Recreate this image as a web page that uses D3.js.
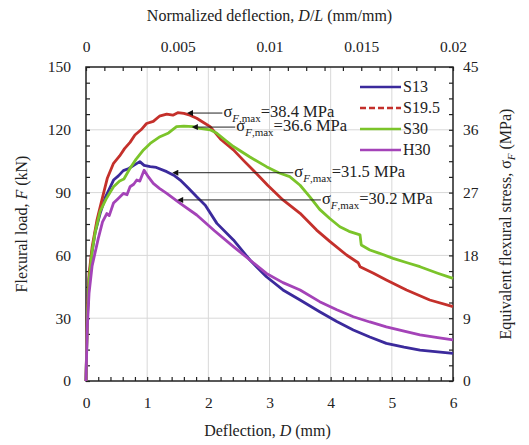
<!DOCTYPE html>
<html>
  <head>
    <meta charset="utf-8">
    <title>Flexural load vs deflection</title>
    <style>
      body { margin: 0; background: #fff; }
      svg text { font-family: "Liberation Serif", "Times New Roman", serif; fill: #222; }
      .grid line { stroke: #d8d8d8; stroke-width: 1; }
    </style>
  </head>
  <body>
    <div id="chart"></div>
    <script src="https://cdn.jsdelivr.net/npm/d3@7"></script>
    <script>
      // ---- data (D in mm, F in kN) ----
      var seriesNames = ['S13', 'S19.5', 'S30', 'H30'];
      var seriesColors = ['#3b2a9c', '#c4302b', '#7bc42a', '#a443b8'];

      var s13 = [[0,0],[0.02,29],[0.05,49],[0.1,62],[0.15,71],[0.23,80],[0.32,88],[0.45,96],[0.53,98],
        [0.61,100.5],[0.7,101.5],[0.78,103],[0.88,104.8],[0.95,103],[1.05,102.4],[1.15,102],[1.32,100],
        [1.45,98],[1.54,96],[1.68,92],[1.81,88],[1.95,84],[2.14,75.3],[2.41,67.4],[2.68,57.8],
        [2.95,49.8],[3.22,43.5],[3.5,38.7],[3.82,33.1],[4.1,28.4],[4.37,24.4],[4.64,21],[4.91,18],
        [5.2,16.2],[5.46,14.8],[5.75,13.9],[6.0,13.2]];
      var s195 = [[0,0],[0.02,31],[0.05,51],[0.1,64],[0.18,77],[0.26,86.5],[0.35,97],[0.45,104],
        [0.55,107.5],[0.63,111],[0.72,114],[0.8,117.5],[0.9,120],[0.99,123],[1.1,124],[1.2,126.5],
        [1.32,127.5],[1.42,127],[1.5,128.2],[1.6,127.8],[1.7,127],[1.81,125.5],[1.92,123.5],
        [2.03,121.5],[2.2,115.5],[2.41,110.4],[2.57,105.5],[2.73,100.8],[2.97,93.5],[3.22,86.5],
        [3.5,80.1],[3.77,72.1],[3.99,66.6],[4.26,60.2],[4.45,56.5],[4.48,54.6],[4.7,51.5],[4.91,48.3],
        [5.24,43.5],[5.62,38.7],[6.0,35.5]];
      var s30 = [[0,0],[0.02,28],[0.05,48],[0.1,62],[0.15,71],[0.23,81],[0.33,87],[0.45,92.8],
        [0.55,95.5],[0.62,96.5],[0.72,101.6],[0.82,106],[0.94,110.4],[1.05,113.5],[1.21,116.7],
        [1.35,118.5],[1.48,121.5],[1.6,121.8],[1.75,121.5],[1.86,120.7],[2.03,120],[2.14,118.3],
        [2.28,115],[2.41,112],[2.68,107],[2.95,102.4],[3.15,99.5],[3.33,97.6],[3.5,93.5],[3.66,88],
        [3.82,82],[3.99,77.5],[4.15,73.7],[4.3,71.5],[4.48,69.8],[4.5,65],[4.64,62.6],[4.8,61],
        [5.02,58.6],[5.25,56.5],[5.46,54.6],[5.75,51.5],[6.0,49]];
      var h30 = [[0,0],[0.02,25],[0.05,42],[0.1,55],[0.2,68],[0.27,76],[0.34,80],[0.38,79],
        [0.45,85],[0.52,87],[0.61,89.6],[0.67,89],[0.72,92.8],[0.78,94],[0.83,96],[0.88,95.5],
        [0.95,100.7],[1.02,97.5],[1.1,94.4],[1.2,92],[1.32,89.6],[1.54,84.9],[1.81,79.3],
        [2.1,71.8],[2.41,64.2],[2.68,57.8],[2.95,51.4],[3.22,47],[3.5,43.5],[3.82,37.9],
        [4.1,34],[4.37,30.7],[4.64,28.2],[4.91,25.9],[5.2,23.8],[5.46,22],[5.75,20.7],[6.0,19.6]];
      var seriesData = [s13, s195, s30, h30];

      // annotations: peak stress (MPa), arrow tip (D, F) and text start D
      var peakStress = ['38.4', '36.6', '31.5', '30.2'];
      var arrowTip = [[1.52, 128], [1.6, 121.3], [1.28, 99.5], [1.36, 86.5]];
      var labelStart = [2.23, 2.44, 3.39, 3.84];

      var xTicks = [0, 1, 2, 3, 4, 5, 6];
      var yTicks = [0, 30, 60, 90, 120, 150];
      var topTicks = [0, 0.005, 0.01, 0.015, 0.02];
      var rightTicks = [0, 9, 18, 27, 36, 45];

      (function(d3) {
        'use strict';

        var width = 529, height = 445;
        var mLeft = 86, mRight = 453, mTop = 67, mBottom = 381;

        var x = d3.scaleLinear().domain([0, 6]).range([mLeft, mRight]);
        var y = d3.scaleLinear().domain([0, 150]).range([mBottom, mTop]);
        var xTop = d3.scaleLinear().domain([0, 0.02]).range([mLeft, mRight]);
        var yRight = d3.scaleLinear().domain([0, 45]).range([mBottom, mTop]);

        var svg = d3.select('#chart').append('svg')
          .attr('width', width).attr('height', height);

        // gridlines
        var grid = svg.append('g').attr('class', 'grid');
        grid.selectAll('.gx').data(xTicks.slice(1, -1)).enter().append('line')
          .attr('x1', function(d) { return x(d); }).attr('x2', function(d) { return x(d); })
          .attr('y1', mTop).attr('y2', mBottom);
        grid.selectAll('.gy').data(yTicks.slice(1, -1)).enter().append('line')
          .attr('x1', mLeft).attr('x2', mRight)
          .attr('y1', function(d) { return y(d); }).attr('y2', function(d) { return y(d); });

        function near(a, list) {
          return list.some(function(v) { return Math.abs(a - v) < 1e-6; });
        }
        function styleAxis(g) {
          g.select('.domain').remove();
          g.selectAll('line').attr('stroke', '#222').attr('stroke-width', 1.2);
          g.selectAll('text').attr('font-size', 15.5).attr('fill', '#222')
            .attr('font-family', '"Liberation Serif", serif');
        }

        // axes, minor ticks point inward
        svg.append('g').attr('transform', 'translate(0,' + mBottom + ')')
          .call(d3.axisBottom(x).tickValues(d3.range(0, 6.01, 0.2)).tickSize(-4).tickPadding(16)
            .tickFormat(function(d) { return near(d, xTicks) ? Math.round(d) : ''; }))
          .call(styleAxis);
        svg.append('g').attr('transform', 'translate(0,' + mTop + ')')
          .call(d3.axisTop(xTop).tickValues(d3.range(0, 0.02001, 0.001)).tickSize(-4).tickPadding(15)
            .tickFormat(function(d) { return near(d, topTicks) ? String(Math.round(d * 1000) / 1000) : ''; }))
          .call(styleAxis);
        svg.append('g').attr('transform', 'translate(' + mLeft + ',0)')
          .call(d3.axisLeft(y).tickValues(d3.range(0, 150.1, 7.5)).tickSize(-4).tickPadding(15)
            .tickFormat(function(d) { return near(d, yTicks) ? d : ''; }))
          .call(styleAxis);
        svg.append('g').attr('transform', 'translate(' + mRight + ',0)')
          .call(d3.axisRight(yRight).tickValues(d3.range(0, 45.01, 2.25)).tickSize(-4).tickPadding(10)
            .tickFormat(function(d) { return near(d, rightTicks) ? Math.round(d) : ''; }))
          .call(styleAxis);

        // frame
        svg.append('rect').attr('x', mLeft).attr('y', mTop)
          .attr('width', mRight - mLeft).attr('height', mBottom - mTop)
          .attr('fill', 'none').attr('stroke', '#222').attr('stroke-width', 1.5);

        // curves
        var line = d3.line().x(function(d) { return x(d[0]); }).y(function(d) { return y(d[1]); });
        svg.selectAll('.curve').data(seriesData).enter().append('path')
          .attr('class', 'curve')
          .attr('d', line)
          .attr('fill', 'none')
          .attr('stroke', function(d, i) { return seriesColors[i]; })
          .attr('stroke-width', 2.8)
          .attr('stroke-linejoin', 'round');

        // arrow marker
        svg.append('defs').append('marker')
          .attr('id', 'arrow').attr('viewBox', '0 0 10 10')
          .attr('refX', 0).attr('refY', 5)
          .attr('markerWidth', 14).attr('markerHeight', 6).attr('markerUnits', 'userSpaceOnUse')
          .attr('orient', 'auto')
          .append('path').attr('d', 'M0,0 L10,5 L0,10 Z').attr('fill', '#111');

        // annotations
        peakStress.forEach(function(s, i) {
          var tipX = x(arrowTip[i][0]), tipY = y(arrowTip[i][1]);
          var endX = x(labelStart[i]);
          svg.append('line')
            .attr('x1', endX).attr('y1', tipY).attr('x2', tipX + 14).attr('y2', tipY)
            .attr('stroke', '#222').attr('stroke-width', 1)
            .attr('marker-end', 'url(#arrow)');
          var t = svg.append('text').attr('x', endX + 1).attr('y', tipY + 4).attr('font-size', 16.5);
          t.append('tspan').text('\u03c3');
          t.append('tspan').attr('font-style', 'italic').attr('font-size', 11).attr('dy', 5).text('F');
          t.append('tspan').attr('font-size', 11).text(',max');
          t.append('tspan').attr('dy', -5).text('=' + s + ' MPa');
        });

        // legend
        var legend = svg.selectAll('.legend').data(seriesNames).enter().append('g')
          .attr('class', 'legend')
          .attr('transform', function(d, i) { return 'translate(360,' + (87 + i * 21) + ')'; });
        legend.append('line')
          .attr('x1', 0).attr('x2', 41).attr('y1', 0).attr('y2', 0)
          .attr('stroke', function(d, i) { return seriesColors[i]; })
          .attr('stroke-width', 2.6)
          .attr('stroke-dasharray', function(d, i) { return i === 1 ? '6,3' : null; });
        legend.append('text').attr('x', 43).attr('y', 5).attr('font-size', 16)
          .text(function(d) { return d; });

        // axis titles
        svg.append('text').attr('x', (mLeft + mRight) / 2).attr('y', 21)
          .attr('text-anchor', 'middle').attr('font-size', 16)
          .html('Normalized deflection, <tspan font-style="italic">D</tspan>/<tspan font-style="italic">L</tspan> (mm/mm)');
        svg.append('text').attr('x', (mLeft + mRight) / 2 - 2).attr('y', 436)
          .attr('text-anchor', 'middle').attr('font-size', 16)
          .html('Deflection, <tspan font-style="italic">D</tspan> (mm)');
        svg.append('text').attr('transform', 'translate(27,' + (mTop + mBottom) / 2 + ') rotate(-90)')
          .attr('text-anchor', 'middle').attr('font-size', 16)
          .html('Flexural load, <tspan font-style="italic">F</tspan> (kN)');
        svg.append('text').attr('transform', 'translate(511,' + (mTop + mBottom) / 2 + ') rotate(-90)')
          .attr('text-anchor', 'middle').attr('font-size', 16)
          .html('Equivalent flexural stress, \u03c3<tspan font-style="italic" font-size="11" dy="4">F</tspan><tspan dy="-4"> (MPa)</tspan>');
      })(window.d3);
    </script>
  </body>
</html>
